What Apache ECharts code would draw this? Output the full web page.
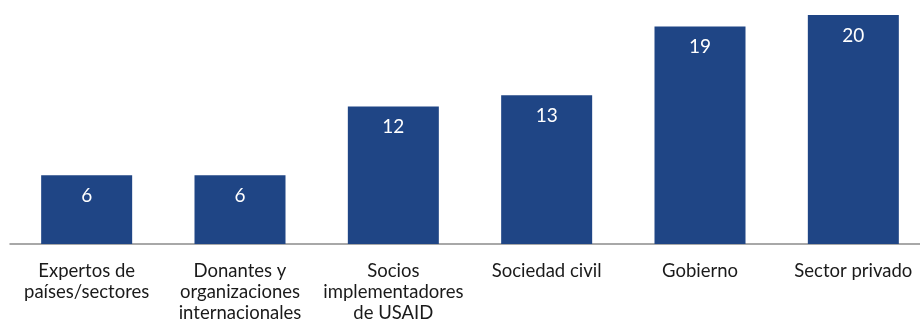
<!DOCTYPE html>
<html>
<head>
<meta charset="utf-8">
<script src="https://cdn.jsdelivr.net/npm/echarts@6/dist/echarts.min.js"></script>
<style>
  html, body { margin: 0; padding: 0; background: #ffffff; overflow: hidden; }
  /* the last category band runs slightly past the right edge of the view */
  #chart { width: 930px; height: 327px; }
</style>
</head>
<body>
<div id="chart"></div>
<script>
// Stakeholder groups (axis labels, line-broken as printed)
const categories = [
  'Expertos de\npaíses/sectores',
  'Donantes y\norganizaciones\ninternacionales',
  'Socios\nimplementadores\nde USAID',
  'Sociedad civil',
  'Gobierno',
  'Sector privado'
];
// Number of interviews per group
const counts = [6, 6, 12, 13, 19, 20];

const chart = echarts.init(document.getElementById('chart'));
chart.setOption({
  animation: false,
  grid: { left: 10, right: 0, top: 15, bottom: 83 },
  xAxis: {
    type: 'category',
    data: categories,
    axisLine: { lineStyle: { color: '#8c8c8c', width: 1.5 } },
    axisTick: { show: false },
    axisLabel: {
      interval: 0,
      margin: 17,
      fontFamily: 'Lato',
      fontSize: 18.5,
      lineHeight: 21,
      color: '#1a1a1a'
    }
  },
  yAxis: {
    type: 'value',
    min: 0,
    max: 20,
    show: false,
    splitLine: { show: false }
  },
  series: [{
    type: 'bar',
    data: counts,
    barWidth: 91,
    itemStyle: { color: '#1f4585' },
    label: {
      show: true,
      position: 'insideTop',
      distance: 11,
      color: '#ffffff',
      fontFamily: 'Lato',
      fontSize: 19
    }
  }]
});
</script>
</body>
</html>
